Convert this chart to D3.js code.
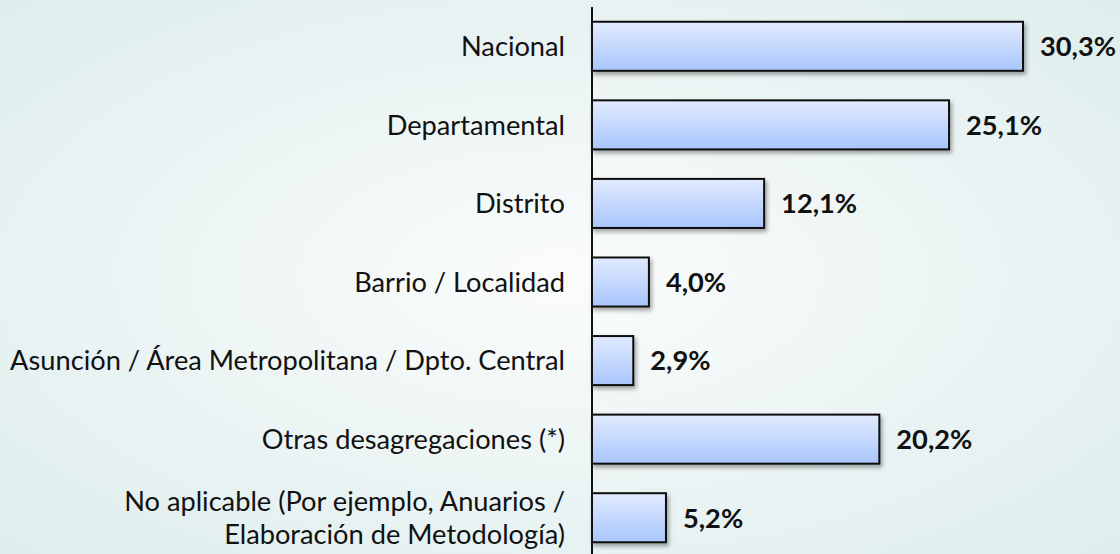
<!DOCTYPE html>
<html><head><meta charset="utf-8">
<script src="https://cdn.jsdelivr.net/npm/d3@7"></script>
<style>html,body{margin:0;padding:0;overflow:hidden;}svg{display:block;}</style>
</head><body>
<script>
const categories = [
  ["Nacional"],
  ["Departamental"],
  ["Distrito"],
  ["Barrio / Localidad"],
  ["Asunción / Área Metropolitana / Dpto. Central"],
  ["Otras desagregaciones (*)"],
  ["No aplicable (Por ejemplo, Anuarios /", "Elaboración de Metodología)"]
];
const values = [30.3, 25.1, 12.1, 4.0, 2.9, 20.2, 5.2];
const valueLabels = ["30,3%", "25,1%", "12,1%", "4,0%", "2,9%", "20,2%", "5,2%"];

const W = 1120, H = 554;
const FONT = "Lato, 'Open Sans', sans-serif";
const svg = d3.select("body").append("svg").attr("width", W).attr("height", H);
const defs = svg.append("defs");

const bg = defs.append("radialGradient").attr("id", "bg").attr("cx", "50%").attr("cy", "50%").attr("r", "75%");
bg.append("stop").attr("offset", "0%").attr("stop-color", "#fbfcfc");
bg.append("stop").attr("offset", "100%").attr("stop-color", "#dcecec");
svg.append("rect").attr("width", W).attr("height", H).attr("fill", "url(#bg)");

const bar = defs.append("linearGradient").attr("id", "bar").attr("x1", 0).attr("y1", 0).attr("x2", 0).attr("y2", 1);
bar.append("stop").attr("offset", "0%").attr("stop-color", "#e2ebfe");
bar.append("stop").attr("offset", "100%").attr("stop-color", "#a8c5fd");

const sh = defs.append("filter").attr("id", "sh").attr("x", "-10%").attr("y", "-20%").attr("width", "130%").attr("height", "160%");
sh.append("feDropShadow").attr("dx", 2).attr("dy", 3).attr("stdDeviation", 2).attr("flood-color", "#000").attr("flood-opacity", 0.35);

const x0 = 592;
const x = d3.scaleLinear().domain([0, 30.3]).range([x0, 1023]);
const y = d3.scaleBand().domain(d3.range(categories.length)).range([7, 557]).paddingInner(0.376).paddingOuter(0.188);

// measure label font size to fit reference width
const probe = svg.append("text").attr("font-family", FONT).attr("font-size", 28).text(categories[4][0]);
const wProbe = probe.node().getComputedTextLength();
probe.remove();
const fs = Math.min(28, 28 * 555 / wProbe);

const g = svg.append("g");
g.selectAll("rect.bar").data(values).join("rect")
  .attr("class", "bar")
  .attr("x", x0)
  .attr("y", (d, i) => y(i))
  .attr("width", d => x(d) - x0)
  .attr("height", y.bandwidth())
  .attr("fill", "url(#bar)")
  .attr("stroke", "#111")
  .attr("stroke-width", 2)
  .attr("filter", "url(#sh)");

g.selectAll("text.val").data(values).join("text")
  .attr("class", "val")
  .attr("x", d => x(d) + 17)
  .attr("y", (d, i) => y(i) + y.bandwidth() / 2)
  .attr("dy", "0.36em")
  .attr("font-family", FONT)
  .attr("font-weight", "bold")
  .attr("font-size", fs)
  .attr("fill", "#111")
  .text((d, i) => valueLabels[i]);

const lab = g.selectAll("text.cat").data(categories).join("text")
  .attr("class", "cat")
  .attr("x", 565)
  .attr("y", (d, i) => y(i) + y.bandwidth() / 2)
  .attr("text-anchor", "end")
  .attr("font-family", FONT)
  .attr("font-size", fs)
  .attr("fill", "#111");
lab.each(function(d) {
  const t = d3.select(this);
  const n = d.length;
  d.forEach((line, k) => {
    t.append("tspan").attr("x", 565)
      .attr("dy", k === 0 ? (0.36 - (n - 1) * 0.6) + "em" : "1.2em")
      .text(line);
  });
});

// axis line
svg.append("line").attr("x1", x0).attr("x2", x0).attr("y1", 7).attr("y2", H)
  .attr("stroke", "#111").attr("stroke-width", 2);
</script>
</body></html>
